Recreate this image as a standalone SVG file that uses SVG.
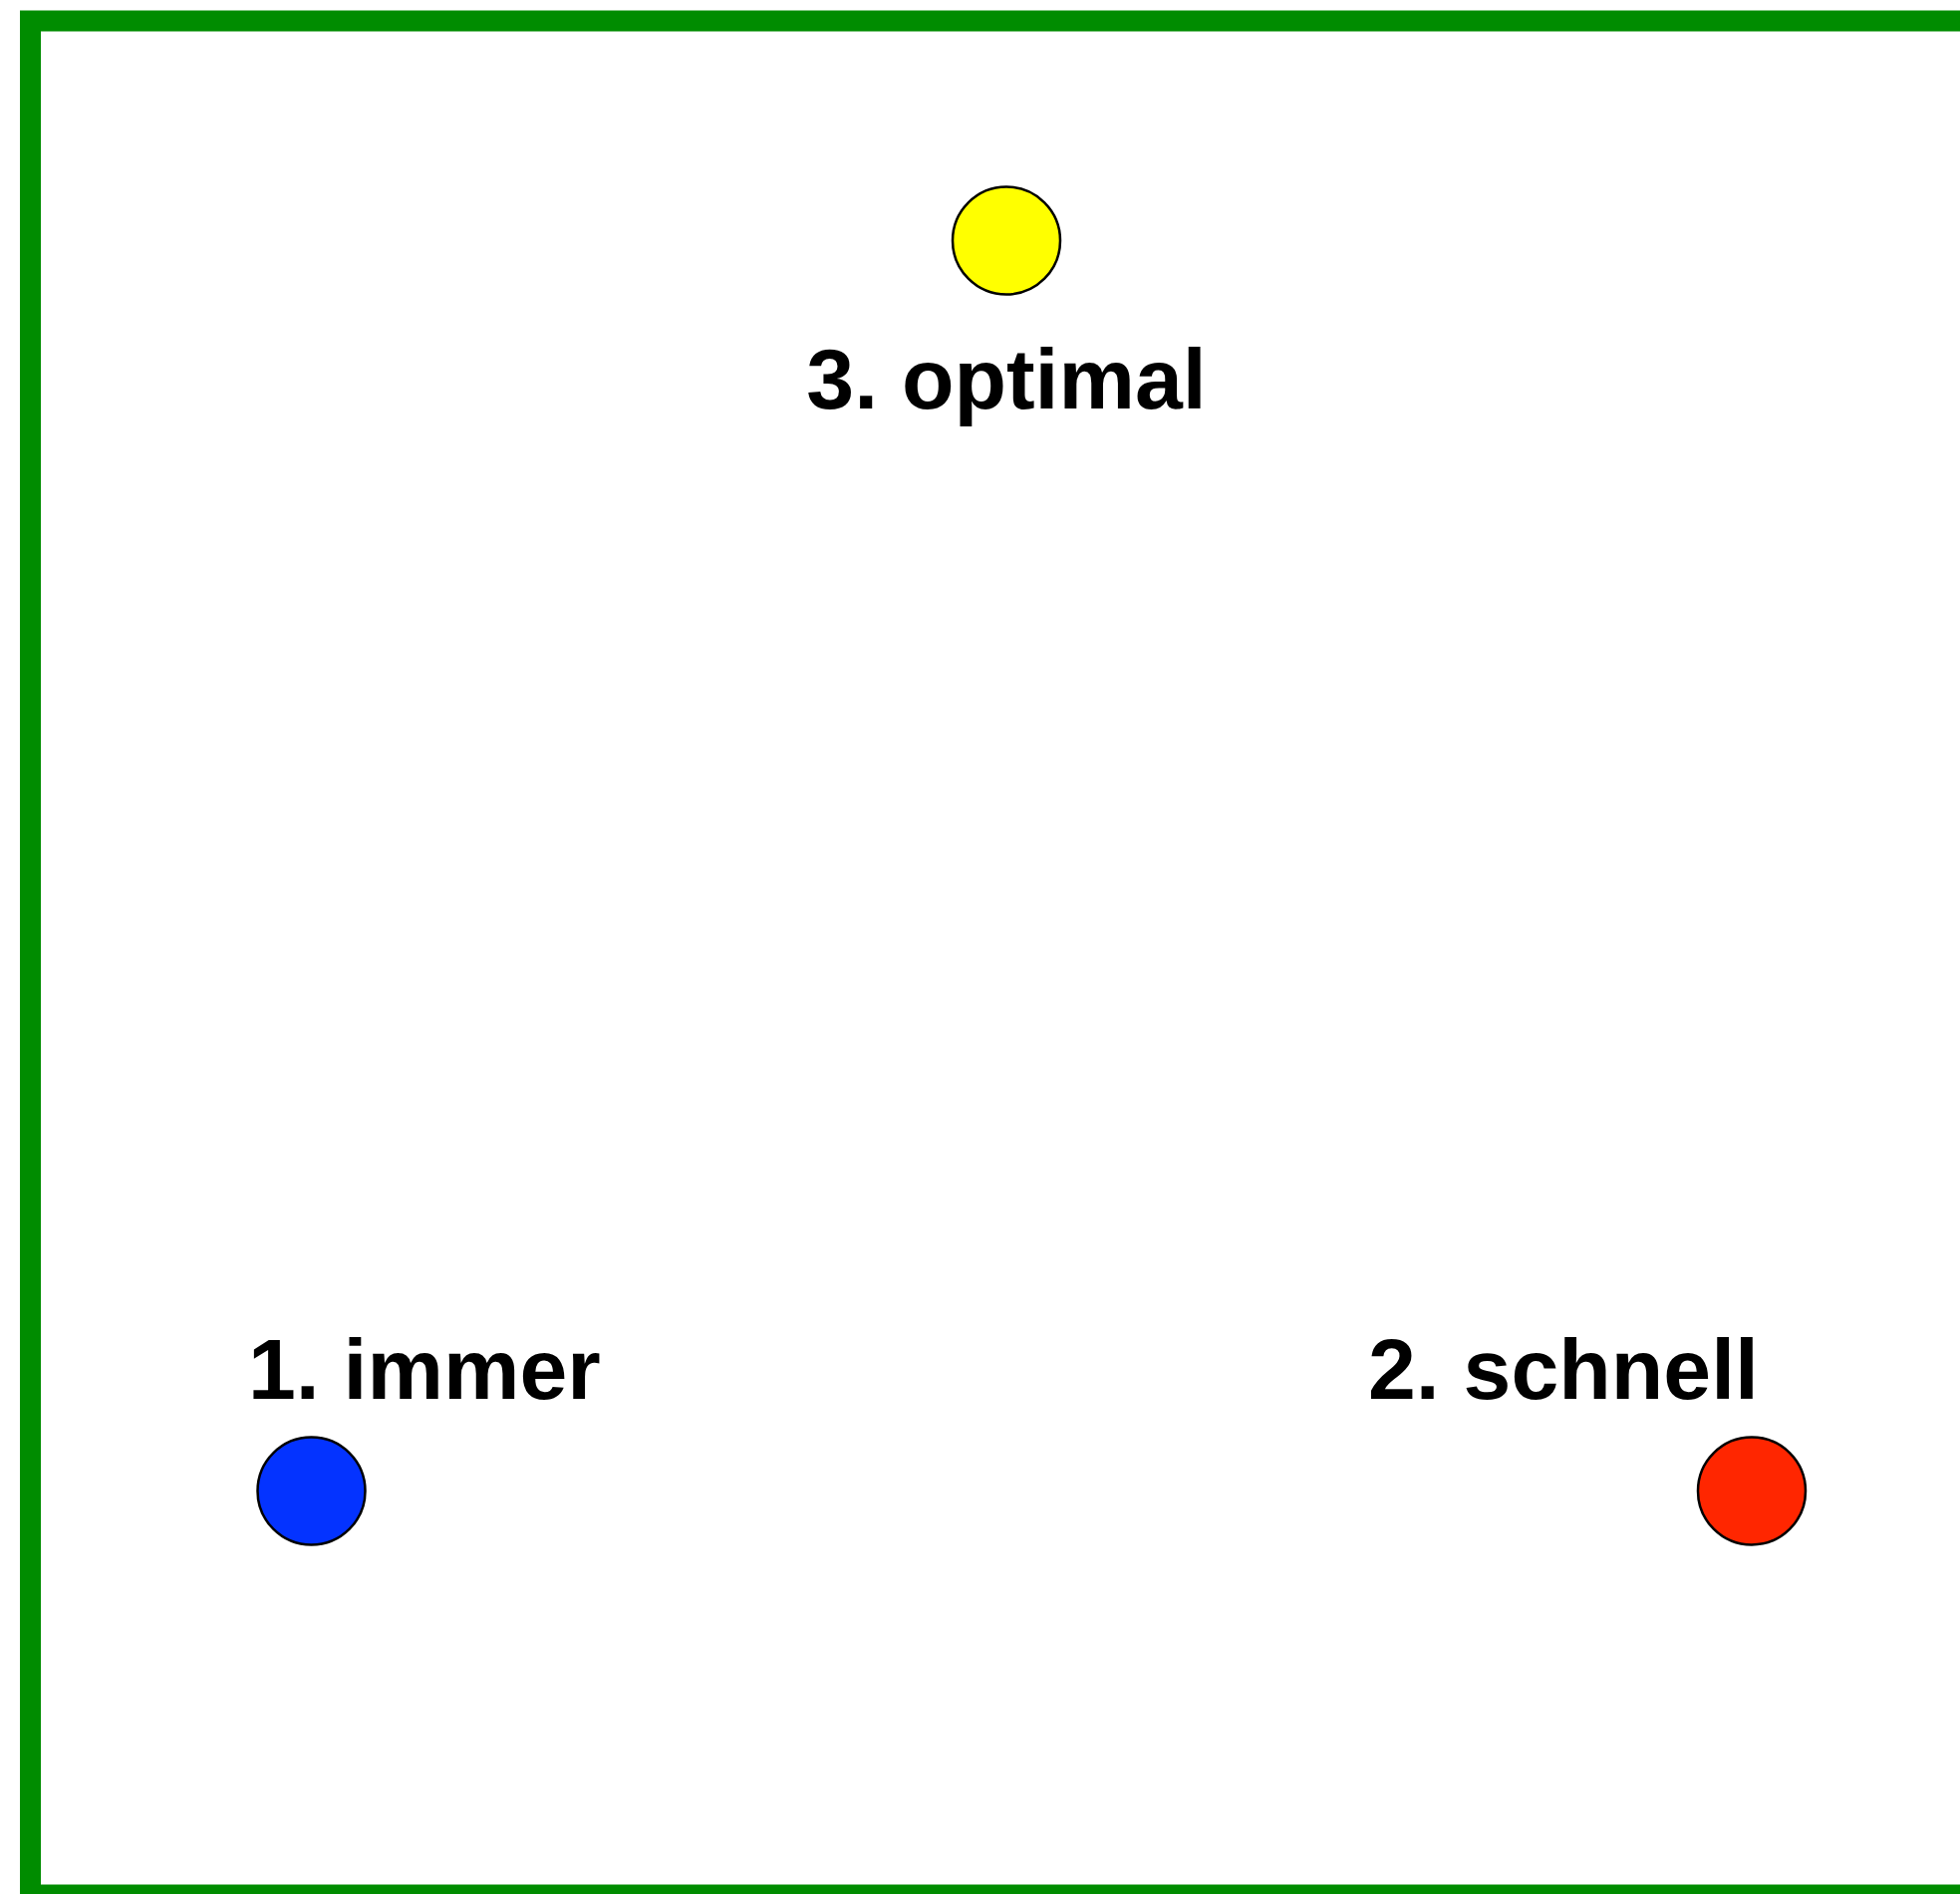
<svg xmlns="http://www.w3.org/2000/svg" width="1967" height="1901" viewBox="0 0 1967 1901">
<style>
.dot{stroke:#000;stroke-width:2.5}
.lbl{font-family:"Liberation Sans",Arial,Helvetica,sans-serif;font-weight:bold;font-size:86px;fill:#000}
</style>
<rect x="0" y="0" width="1967" height="1901" fill="#fff"/>
<rect id="frame" x="30.5" y="21" width="1960" height="1881" fill="none" stroke="#008c00" stroke-width="21"/>
<g id="connectors"></g>
<g id="node-optimal">
<circle class="dot" cx="1010" cy="241.5" r="54" fill="#ffff00"/>
<text class="lbl" x="1010" y="410" text-anchor="middle">3. optimal</text>
</g>
<g id="node-immer">
<circle class="dot" cx="312.5" cy="1496.5" r="54" fill="#0433ff"/>
<text class="lbl" x="249" y="1404">1. immer</text>
</g>
<g id="node-schnell">
<circle class="dot" cx="1758" cy="1496.5" r="54" fill="#ff2600"/>
<text class="lbl" x="1373" y="1404">2. schnell</text>
</g>
</svg>
